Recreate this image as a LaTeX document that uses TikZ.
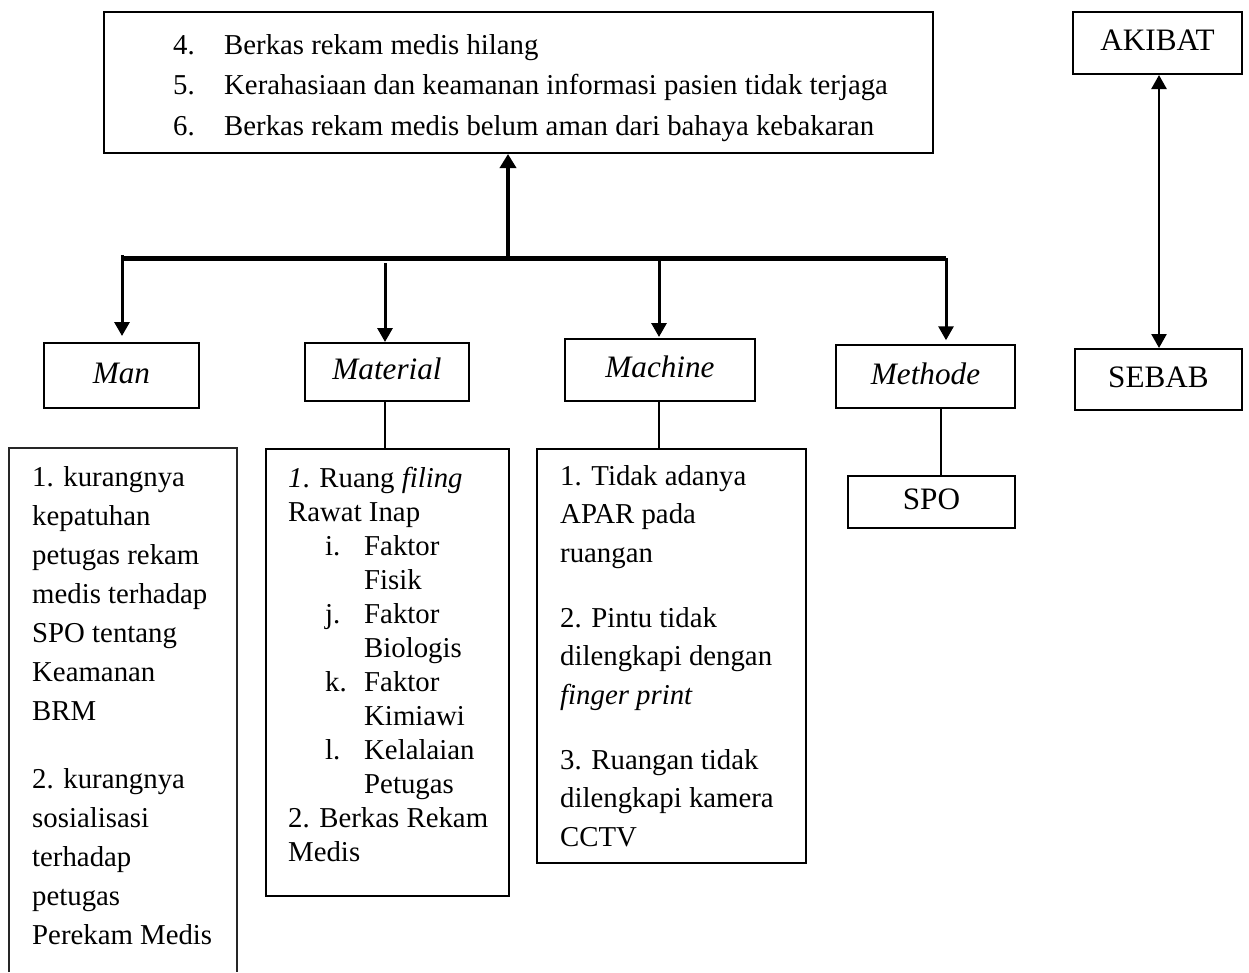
\documentclass[tikz,border=0pt]{standalone}
\usepackage{fontspec}
\setmainfont{Liberation Serif}
\usetikzlibrary{arrows.meta}
\begin{document}
\begin{tikzpicture}[x=1pt,y=-1pt,
  lbl/.style={draw, line width=2pt, inner sep=0pt,
    font=\fontsize{31.2}{36}\selectfont, text height=21.8pt, text depth=6.2pt},
  listbox/.style={draw, line width=2.5pt, inner sep=0pt},
  txt/.style={anchor=base west, inner sep=0pt},
  arr/.style={line width=3pt, -{Triangle[length=14pt,width=15pt]}},
  conn/.style={line width=2.5pt}
]
\useasboundingbox (0,0) rectangle (1249,972);

% effect box
\node[draw, line width=2pt, inner sep=0pt, minimum width=829pt, minimum height=141pt] (top) at (518.5,82.5) {};
\node[txt, font=\fontsize{28.8}{40.5}\selectfont] (toptext) at (173,54)
  {\parbox[t]{760pt}{\raggedright
   \makebox[51pt][l]{4.}Berkas rekam medis hilang\\
   \makebox[51pt][l]{5.}Kerahasiaan dan keamanan informasi pasien tidak terjaga\\
   \makebox[51pt][l]{6.}Berkas rekam medis belum aman dari bahaya kebakaran}};

% category boxes
\node[lbl, minimum width=155pt, minimum height=65pt] (man) at (121.5,375.5) {\textit{Man}};
\node[lbl, minimum width=164pt, minimum height=58pt] (material) at (387,372) {\textit{Material}};
\node[lbl, minimum width=190pt, minimum height=62pt] (machine) at (660,370) {\textit{Machine}};
\node[lbl, minimum width=179pt, minimum height=63pt, line width=1.5pt] (methode) at (925.5,376.5) {\textit{Methode}};
\node[lbl, minimum width=167pt, minimum height=52pt, line width=1.5pt] (spo) at (931.5,502) {SPO};

% legend
\node[lbl, minimum width=169pt, minimum height=62pt] (akibat) at (1157.5,43) {AKIBAT};
\node[lbl, minimum width=167pt, minimum height=61pt] (sebab) at (1158.5,379.5) {SEBAB};

% bus and arrows
\coordinate (busL) at (122,258);
\coordinate (busR) at (946,258);
\coordinate (busM) at (508,258);
\coordinate (matA) at (385,263);
\coordinate (machA) at (659,258);
\coordinate (mspo) at (941,420);
\coordinate (ab) at (1159,200);

\draw[line width=5pt] (busL) -- (busR);
\draw[line width=4pt, -{Triangle[length=14pt,width=16pt]}] (busM) -- (busM |- top.south);
\draw[arr, shorten >=6pt] ([yshift=3pt]busL) -- (busL |- man.north);
\draw[arr] (matA) -- (matA |- material.north);
\draw[arr, shorten >=1pt] (machA) -- (machA |- machine.north);
\draw[arr, shorten >=4pt] (busR) -- (busR |- methode.north);
\draw[line width=2.5pt, {Triangle[length=14pt,width=15pt]}-{Triangle[length=14pt,width=15pt]}]
  (akibat.south -| ab) -- (sebab.north -| ab);

% cause lists
\node[inner sep=0pt, minimum width=228pt, minimum height=524pt] (manlist) at (123,710) {};
\draw[line width=1.8pt, black!85] (manlist.south west) -- (manlist.north west) -- (manlist.north east) -- (manlist.south east);
\node[listbox, minimum width=243pt, minimum height=447pt] (matlist) at (387.5,672.5) {};
\node[listbox, minimum width=269pt, minimum height=414pt] (maclist) at (671.5,656) {};

\draw[conn] (material.south -| matA) -- (matlist.north -| matA);
\draw[conn] (machine.south -| machA) -- (maclist.north -| machA);
\draw[line width=1.2pt] (methode.south -| mspo) -- (spo.north -| mspo);

\node[txt, font=\fontsize{28.8}{39}\selectfont] (mantext) at (32,486)
  {\parbox[t]{220pt}{\raggedright
   1. kurangnya\\
   kepatuhan\\
   petugas rekam\\
   medis terhadap\\
   SPO tentang\\
   Keamanan\\
   BRM\\[29pt]
   2. kurangnya\\
   sosialisasi\\
   terhadap\\
   petugas\\
   Perekam Medis}};

\node[txt, font=\fontsize{28.8}{34}\selectfont] (mattext) at (288,487)
  {\parbox[t]{240pt}{\raggedright
   \textit{1}. Ruang \textit{filing}\\
   Rawat Inap\\
   \hspace*{37pt}\makebox[39pt][l]{i.}Faktor\\
   \hspace*{76pt}Fisik\\
   \hspace*{37pt}\makebox[39pt][l]{j.}Faktor\\
   \hspace*{76pt}Biologis\\
   \hspace*{37pt}\makebox[39pt][l]{k.}Faktor\\
   \hspace*{76pt}Kimiawi\\
   \hspace*{37pt}\makebox[39pt][l]{l.}Kelalaian\\
   \hspace*{76pt}Petugas\\
   2. Berkas Rekam\\
   Medis}};

\node[txt, font=\fontsize{28.8}{38.5}\selectfont] (mactext) at (560,485)
  {\parbox[t]{260pt}{\raggedright
   1. Tidak adanya\\
   APAR pada\\
   ruangan\\[26.5pt]
   2. Pintu tidak\\
   dilengkapi dengan\\
   \textit{finger print}\\[26.5pt]
   3. Ruangan tidak\\
   dilengkapi kamera\\
   CCTV}};
\end{tikzpicture}
\end{document}
